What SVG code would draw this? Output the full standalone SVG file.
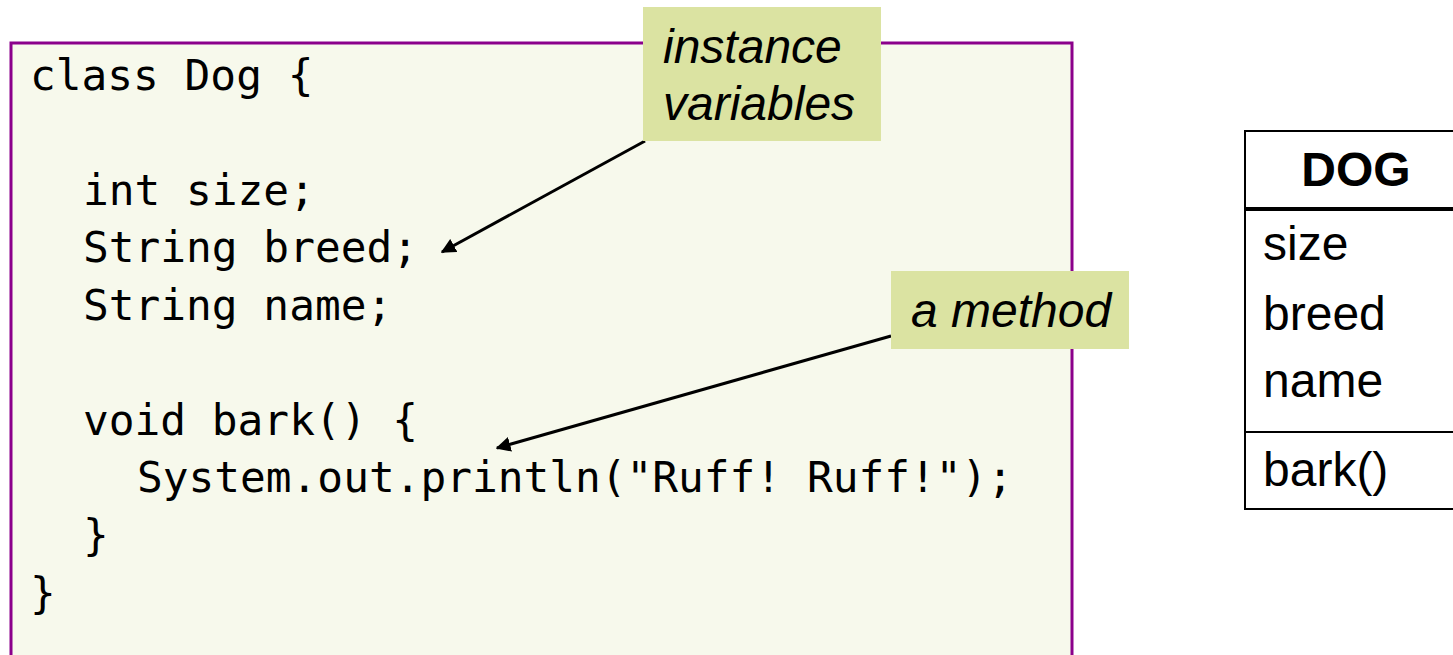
<svg xmlns="http://www.w3.org/2000/svg" width="1453" height="655" viewBox="0 0 1453 655">
<style>
.code{font-family:"DejaVu Sans Mono","Liberation Mono",monospace;font-size:42.8px;fill:#000;}
.note{font-family:"Liberation Sans",Arial,sans-serif;font-size:48px;font-style:italic;fill:#000;}
.uml{font-family:"Liberation Sans",Arial,sans-serif;font-size:48px;fill:#000;}
.lbl{fill:#DBE3A2;}
.conn{stroke:#000;stroke-width:3;fill:none;marker-end:url(#ah);}
</style>
<defs>
<marker id="ah" viewBox="0 0 10 10" refX="9" refY="5" markerWidth="5" markerHeight="5" markerUnits="strokeWidth" orient="auto">
<path d="M0,0 L10,5 L0,10 z" fill="#000"/>
</marker>
</defs>
<rect width="1453" height="655" fill="#fff"/>
<g id="code-box">
<rect x="11" y="43" width="1061" height="640" fill="#F7F9EC" stroke="#8B008B" stroke-width="3"/>
<text class="code" x="30" y="90">class Dog {</text>
<text class="code" x="83" y="205">int size;</text>
<text class="code" x="83" y="262">String breed;</text>
<text class="code" x="83" y="320">String name;</text>
<text class="code" x="83" y="435">void bark() {</text>
<text class="code" x="137" y="492">System.out.println("Ruff! Ruff!");</text>
<text class="code" x="83" y="550">}</text>
<text class="code" x="30" y="608">}</text>
</g>
<g id="connectors">
<line class="conn" x1="645" y1="141" x2="442" y2="252"/>
<line class="conn" x1="891" y1="336" x2="497" y2="448"/>
</g>
<g id="label-instance-variables">
<rect class="lbl" x="643" y="7" width="238" height="134"/>
<text class="note" x="663" y="63">instance</text>
<text class="note" x="663" y="120">variables</text>
</g>
<g id="label-a-method">
<rect class="lbl" x="891" y="271" width="238" height="78"/>
<text class="note" x="911" y="327">a method</text>
</g>
<g id="uml-dog">
<rect x="1245" y="131" width="230" height="378" fill="#fff" stroke="#000" stroke-width="2"/>
<line x1="1245" y1="209" x2="1475" y2="209" stroke="#000" stroke-width="4"/>
<line x1="1245" y1="432" x2="1475" y2="432" stroke="#000" stroke-width="2"/>
<text class="uml" x="1356" y="186" text-anchor="middle" font-weight="bold">DOG</text>
<text class="uml" x="1263" y="260">size</text>
<text class="uml" x="1263" y="330">breed</text>
<text class="uml" x="1263" y="397">name</text>
<text class="uml" x="1263" y="486">bark()</text>
</g>
</svg>
